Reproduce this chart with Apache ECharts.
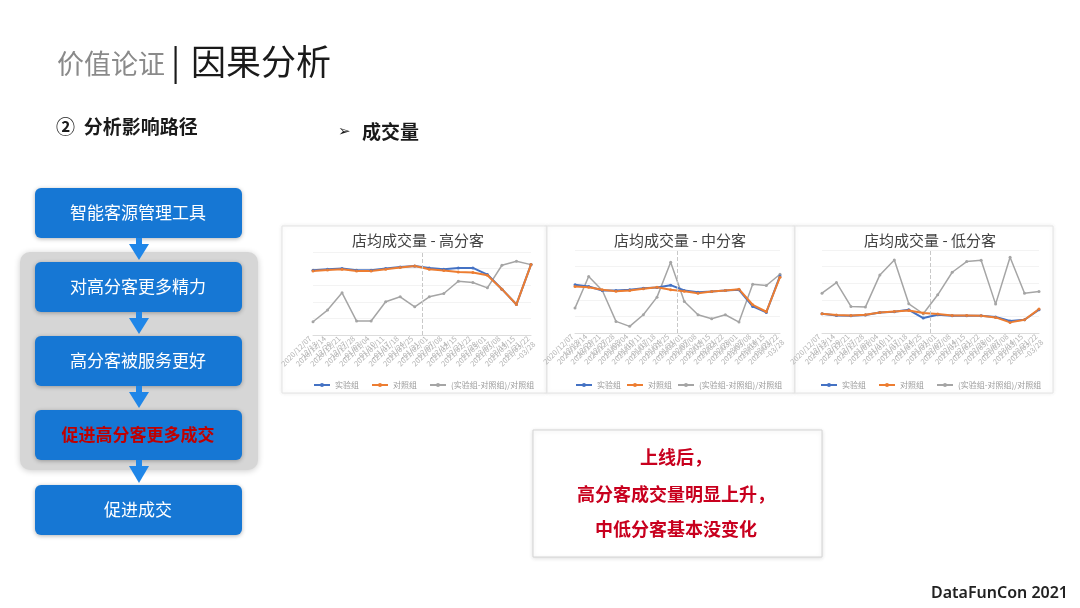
<!DOCTYPE html>
<html>
<head>
<meta charset="utf-8">
<script src="https://cdn.jsdelivr.net/npm/echarts/dist/echarts.min.js"></script>
<style>
  body { margin: 0; background: #fff; }
  #main { width: 1080px; height: 608px; }
</style>
</head>
<body>
<div id="main"></div>
<script>
// 周度日期（x轴）
const weeks = [
  '2020/12/07\n~12/13', '2020/12/14\n~12/20', '2020/12/21\n~12/27', '2020/12/28\n~01/03',
  '2021/01/04\n~01/10', '2021/01/11\n~01/17', '2021/01/18\n~01/24', '2021/01/25\n~01/31',
  '2021/02/01\n~02/07', '2021/02/08\n~02/14', '2021/02/15\n~02/21', '2021/02/22\n~02/28',
  '2021/03/01\n~03/07', '2021/03/08\n~03/14', '2021/03/15\n~03/21', '2021/03/22\n~03/28'
];
const launchIdx = 7.5; // 上线时间（虚线）

// 高分客
const highExp  = [19.5, 19.8, 20.0, 19.5, 19.5, 20.0, 20.5, 20.8, 20.2, 19.8, 20.2, 20.2, 18.2, 13.8, 9.2, 21.2];
const highCtl  = [19.3, 19.6, 19.8, 19.3, 19.3, 19.8, 20.3, 20.8, 19.8, 19.4, 19.0, 18.8, 18.0, 13.8, 9.2, 21.2];
const highDiff = [-60, -25, 27, -58, -58, 0, 15, -15, 15, 25, 62, 58, 42, 110, 122, 112];
// 中分客
const midExp   = [14.5, 14.0, 12.8, 12.8, 13.0, 13.5, 13.7, 14.4, 12.8, 12.3, 12.5, 12.8, 13.0, 8.0, 6.2, 17.2];
const midCtl   = [14.0, 13.8, 13.0, 12.6, 12.8, 13.3, 13.8, 13.0, 12.6, 12.0, 12.5, 12.8, 13.2, 8.5, 6.4, 16.8];
const midDiff  = [-25, 70, 28, -65, -80, -45, 8, 113, -5, -45, -57, -45, -67, 47, 43, 77];
// 低分客
const lowExp   = [5.8, 5.3, 5.2, 5.4, 6.2, 6.4, 7.0, 4.5, 5.5, 5.2, 5.2, 5.2, 4.8, 3.6, 4.0, 7.0];
const lowCtl   = [5.8, 5.4, 5.3, 5.5, 6.2, 6.5, 6.8, 6.0, 5.7, 5.3, 5.3, 5.2, 4.7, 3.2, 4.0, 7.2];
const lowDiff  = [20, 52, -20, -22, 75, 120, -12, -42, 15, 83, 115, 119, -13, 128, 20, 25];

const chartTitles = ['店均成交量 - 高分客', '店均成交量 - 中分客', '店均成交量 - 低分客'];
const seriesNames = ['实验组', '对照组', '(实验组-对照组)/对照组'];
const flowSteps = ['智能客源管理工具', '对高分客更多精力', '高分客被服务更好', '促进高分客更多成交', '促进成交'];
const conclusion = ['上线后，', '高分客成交量明显上升，', '中低分客基本没变化'];

const groups = [
  [highExp, highCtl, highDiff],
  [midExp, midCtl, midDiff],
  [lowExp, lowCtl, lowDiff]
];

// 布局
const grids = [
  { left: 313, top: 252, width: 218, height: 83 },
  { left: 575, top: 250, width: 205, height: 83 },
  { left: 822, top: 250, width: 217, height: 83 }
];
const frames = [[282, 226, 265, 167], [547, 226, 248, 167], [795, 226, 258, 167]];
const titleX = [418, 680, 930];
const legendX = [308, 570, 815];
const legendGap = [12, 5, 12];

const CJK = '"Noto Sans CJK SC"';
const blue = '#1677d4';

let myChart = echarts.init(document.getElementById('main'));

let xAxes = [], yAxes = [], series = [], legends = [];
grids.forEach(function (g, k) {
  xAxes.push({
    type: 'category', gridIndex: k, data: weeks, boundaryGap: false,
    axisTick: { show: false },
    axisLine: { lineStyle: { color: '#dcdcdc' } },
    axisLabel: { interval: 0, rotate: 45, fontSize: 7.5, lineHeight: 8, color: '#b4b4b4', margin: 5 }
  });
  yAxes.push({
    type: 'value', gridIndex: k, min: 0, max: 25, interval: 5,
    axisLabel: { show: false }, axisLine: { show: false }, axisTick: { show: false },
    splitLine: { lineStyle: { color: '#f3f3f3' } }
  });
  yAxes.push({
    type: 'value', gridIndex: k, min: -100, max: 150, position: 'right',
    axisLabel: { show: false }, axisLine: { show: false }, axisTick: { show: false },
    splitLine: { show: false }
  });
  const d = groups[k];
  series.push({
    type: 'line', name: seriesNames[2], xAxisIndex: k, yAxisIndex: 2 * k + 1, data: d[2],
    color: '#a5a5a5', symbol: 'circle', symbolSize: 3, lineStyle: { width: 1.5 }
  });
  series.push({
    type: 'line', name: seriesNames[0], xAxisIndex: k, yAxisIndex: 2 * k, data: d[0],
    color: '#4472c4', symbol: 'circle', symbolSize: 3, lineStyle: { width: 2 }
  });
  series.push({
    type: 'line', name: seriesNames[1], xAxisIndex: k, yAxisIndex: 2 * k, data: d[1],
    color: '#ed7d31', symbol: 'circle', symbolSize: 3, lineStyle: { width: 2 }
  });
  legends.push({
    data: seriesNames, left: legendX[k], top: 376,
    itemWidth: 16, itemHeight: 5, itemGap: legendGap[k],
    textStyle: { fontSize: 8, color: '#9a9a9a', fontFamily: CJK }
  });
});
// 上线虚线用的隐藏数值轴
grids.forEach(function (g, k) {
  xAxes.push({ type: 'value', gridIndex: k, min: 0, max: 15, show: false });
  series.push({
    type: 'line', xAxisIndex: 3 + k, yAxisIndex: 2 * k, data: [],
    markLine: {
      silent: true, symbol: 'none', label: { show: false },
      lineStyle: { color: '#c8c8c8', type: 'dashed', width: 1 },
      data: [{ xAxis: launchIdx }]
    }
  });
});

// 页面上的其它元素
let graphic = [];
frames.forEach(function (f) {
  graphic.push({
    type: 'rect', z: -10, shape: { x: f[0], y: f[1], width: f[2], height: f[3] },
    style: { fill: '#fff', stroke: '#e4e4e4', lineWidth: 1, shadowBlur: 4, shadowColor: 'rgba(0,0,0,0.08)' }
  });
});
chartTitles.forEach(function (t, k) {
  graphic.push({
    type: 'text', x: titleX[k], y: 240,
    style: { text: t, font: '15px ' + CJK, fill: '#404040', align: 'center', verticalAlign: 'middle' }
  });
});

// 标题
graphic.push({ type: 'text', x: 57, y: 64, style: { text: '价值论证', font: '27px ' + CJK, fill: '#8a8a8a', verticalAlign: 'middle' } });
graphic.push({ type: 'text', x: 171, y: 62, style: { text: '|', font: '34px ' + CJK, fill: '#1a1a1a', verticalAlign: 'middle' } });
graphic.push({ type: 'text', x: 191, y: 62, style: { text: '因果分析', font: '35px ' + CJK, fill: '#1a1a1a', verticalAlign: 'middle' } });
graphic.push({ type: 'text', x: 56, y: 127, style: { text: '②  分析影响路径', font: 'bold 19px ' + CJK, fill: '#1a1a1a', verticalAlign: 'middle' } });
graphic.push({ type: 'text', x: 338, y: 132, style: { text: '➢', font: '15px "DejaVu Sans"', fill: '#1a1a1a', verticalAlign: 'middle' } });
graphic.push({ type: 'text', x: 362, y: 132, style: { text: '成交量', font: 'bold 19px ' + CJK, fill: '#1a1a1a', verticalAlign: 'middle' } });

// 流程图
graphic.push({
  type: 'rect', z: 1, shape: { x: 20, y: 252, width: 238, height: 218, r: 10 },
  style: { fill: '#d6d6d6', shadowBlur: 6, shadowColor: 'rgba(0,0,0,0.2)', shadowOffsetY: 1 }
});
const boxTops = [188, 262, 336, 410, 485];
flowSteps.forEach(function (s, i) {
  const top = boxTops[i];
  graphic.push({
    type: 'rect', z: 2, shape: { x: 35, y: top, width: 207, height: 50, r: 6 },
    style: { fill: blue, shadowBlur: 4, shadowColor: 'rgba(0,0,0,0.3)', shadowOffsetY: 1 }
  });
  const hot = i === 3;
  graphic.push({
    type: 'text', z: 3, x: 138, y: top + 25,
    style: {
      text: s, font: (hot ? 'bold ' : '') + '17px ' + CJK,
      fill: hot ? '#c00000' : '#fff', align: 'center', verticalAlign: 'middle'
    }
  });
  if (i < flowSteps.length - 1) {
    const y0 = top + 50, y1 = boxTops[i + 1];
    graphic.push({ type: 'rect', z: 2, shape: { x: 136, y: y0, width: 6, height: y1 - y0 - 8 }, style: { fill: '#1f86e8' } });
    graphic.push({
      type: 'polygon', z: 2,
      shape: { points: [[129, y0 + 6], [149, y0 + 6], [139, y1 - 2]] },
      style: { fill: '#1f86e8' }
    });
  }
});

// 结论框
graphic.push({
  type: 'rect', shape: { x: 533, y: 430, width: 289, height: 127 },
  style: { fill: '#fff', stroke: '#d4d4d4', lineWidth: 1, shadowBlur: 4, shadowColor: 'rgba(0,0,0,0.12)', shadowOffsetY: 1 }
});
const conclY = [457, 494, 529];
conclusion.forEach(function (t, i) {
  graphic.push({
    type: 'text', x: 676, y: conclY[i],
    style: { text: t, font: 'bold 18px ' + CJK, fill: '#c8001e', align: 'center', verticalAlign: 'middle' }
  });
});

graphic.push({
  type: 'text', x: 1068, y: 593,
  style: { text: 'DataFunCon 2021', font: '600 16px "Noto Sans"', fill: '#222', align: 'right', verticalAlign: 'middle' }
});

myChart.setOption({
  animation: false,
  backgroundColor: '#fff',
  textStyle: { fontFamily: CJK },
  grid: grids,
  xAxis: xAxes,
  yAxis: yAxes,
  legend: legends,
  series: series,
  graphic: graphic
});
</script>
</body>
</html>
